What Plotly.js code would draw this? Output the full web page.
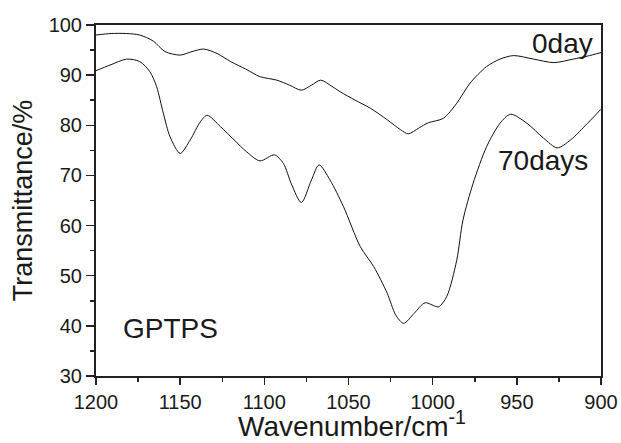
<!DOCTYPE html>
<html>
<head>
<meta charset="utf-8">
<script src="https://cdn.plot.ly/plotly-3.0.1.min.js"></script>
<style>html,body{margin:0;padding:0;background:#fff;}#chart{width:621px;height:443px;}</style>
</head>
<body>
<div id="chart"></div>
<script>
const wave0 = [1200, 1191, 1182, 1174, 1166, 1159, 1150, 1143, 1136, 1128, 1120, 1111, 1102.6, 1092.6, 1085, 1078, 1072, 1066.5, 1060, 1055, 1046, 1037, 1027, 1019, 1014.5, 1008, 1002.6, 993.6, 985.7, 977.8, 968, 960, 952, 940, 928, 916.5, 908, 900];
const trans0 = [98.0, 98.3, 98.3, 98.0, 96.8, 94.7, 94.0, 94.7, 95.2, 94.3, 92.7, 91.2, 89.7, 89.0, 88.0, 87.0, 88.0, 89.0, 87.8, 86.7, 85.0, 83.4, 81.1, 79.1, 78.3, 79.5, 80.5, 81.4, 84.4, 88.4, 91.7, 93.2, 93.9, 93.2, 92.5, 93.2, 93.8, 94.5];

const wave70 = [1200, 1191.7, 1181.8, 1174, 1168, 1164, 1160, 1156, 1150, 1144, 1138, 1134, 1126, 1118, 1110.5, 1102.6, 1094, 1088.7, 1083.7, 1078, 1072, 1067.5, 1061, 1053, 1043, 1035, 1027, 1022, 1017.3, 1011, 1004.5, 996.6, 991.7, 985.7, 982, 976, 968, 960, 953.7, 944, 934, 926, 918, 908, 900];
const trans70 = [90.9, 92.0, 93.2, 92.7, 90.7, 87.7, 82.4, 77.7, 74.4, 77.1, 80.7, 82.0, 79.7, 77.1, 74.7, 72.9, 74.1, 72.4, 68.1, 64.6, 69.1, 72.1, 69.1, 63.8, 55.8, 51.8, 46.5, 42.2, 40.5, 42.5, 44.6, 43.8, 45.8, 53.1, 61.1, 68.4, 75.7, 80.4, 82.2, 80.4, 77.4, 75.5, 77.1, 80.4, 83.2];

const labels = ["0day", "70days", "GPTPS"];
const xTitle = 'Wavenumber/cm<sup>-1</sup>';
const yTitle = 'Transmittance/%';
const xTicks = [1200, 1150, 1100, 1050, 1000, 950, 900];
const yTicks = [30, 40, 50, 60, 70, 80, 90, 100];

const lineStyle = {color: '#111', width: 1, shape: 'spline', smoothing: 0.8};
const traces = [
  {x: wave0, y: trans0, mode: 'lines', line: lineStyle, hoverinfo: 'skip'},
  {x: wave70, y: trans70, mode: 'lines', line: lineStyle, hoverinfo: 'skip'}
];

const font = {family: 'Liberation Sans, Arial, sans-serif', color: '#1a1a1a'};
const layout = {
  width: 621, height: 443,
  margin: {l: 96, r: 20, t: 25, b: 67},
  paper_bgcolor: '#fff', plot_bgcolor: '#fff',
  showlegend: false,
  font: Object.assign({size: 20}, font),
  xaxis: {
    range: [1200, 900], tickvals: xTicks, ticktext: xTicks.map(String),
    showgrid: false, zeroline: false, showline: true, mirror: true,
    linecolor: '#222', linewidth: 2, ticks: 'outside', ticklen: 7, tickwidth: 1.5, tickcolor: '#222',
    tickfont: Object.assign({size: 20}, font),
    minor: {dtick: 25, tick0: 900, ticks: 'outside', ticklen: 4, tickwidth: 1.5, tickcolor: '#222', showgrid: false}
  },
  yaxis: {
    range: [30, 100], tickvals: yTicks, ticktext: yTicks.map(String),
    showgrid: false, zeroline: false, showline: true, mirror: true,
    linecolor: '#222', linewidth: 2, ticks: 'outside', ticklen: 8, tickwidth: 1.5, tickcolor: '#222',
    tickfont: Object.assign({size: 20}, font),
    minor: {dtick: 5, tick0: 30, ticks: 'outside', ticklen: 4, tickwidth: 1.5, tickcolor: '#222', showgrid: false},
    title: {text: yTitle, font: Object.assign({size: 27}, font), standoff: 8}
  },
  annotations: [
    {x: 922.6, y: 96.4, xref: 'x', yref: 'y', text: labels[0], showarrow: false, font: Object.assign({size: 28}, font)},
    {x: 934.4, y: 72.9, xref: 'x', yref: 'y', text: labels[1], showarrow: false, font: Object.assign({size: 28}, font)},
    {x: 1156, y: 39.4, xref: 'x', yref: 'y', text: labels[2], showarrow: false, font: Object.assign({size: 28}, font)},
    {x: 0.507, y: -0.193, xref: 'paper', yref: 'paper', xanchor: 'center', yanchor: 'bottom', text: xTitle, showarrow: false, font: Object.assign({size: 28}, font)}
  ]
};
Plotly.newPlot('chart', traces, layout, {staticPlot: true, displayModeBar: false});
</script>
</body>
</html>
